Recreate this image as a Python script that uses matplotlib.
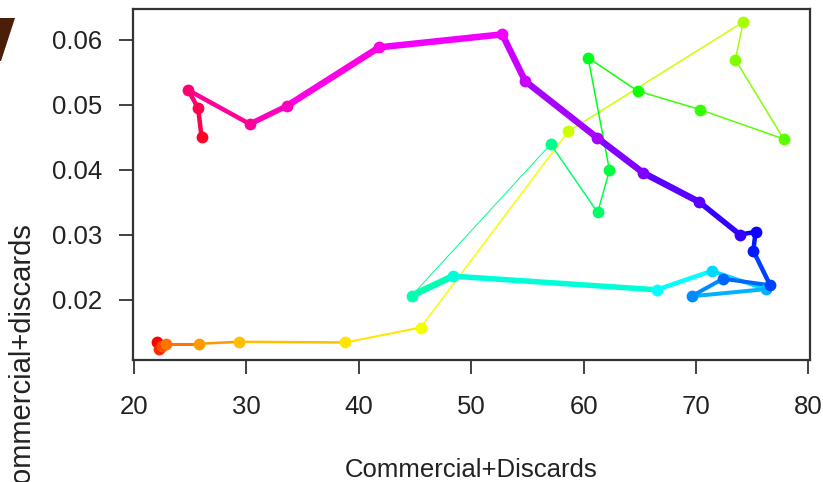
import matplotlib.pyplot as plt
import matplotlib.colors as mcolors
from matplotlib.patches import Polygon

# path, in drawing order
commercial = [
    22.0, 22.2, 22.5, 22.8, 25.8, 29.3, 38.8, 45.5, 58.65, 74.2,
    73.5, 77.8, 70.4, 64.8, 60.4, 62.3, 61.25, 57.07, 44.7, 48.36,
    66.5, 71.4, 76.2, 69.6, 72.4, 76.6, 75.1, 75.3, 73.9, 70.3,
    65.3, 61.2, 54.8, 52.76, 41.8, 33.6, 30.3, 24.83, 25.7, 26.0,
]
ratio = [
    0.0135, 0.0124, 0.0128, 0.0132, 0.0132, 0.0135, 0.0134, 0.0157, 0.0459, 0.0627,
    0.0569, 0.0447, 0.0492, 0.0521, 0.0572, 0.0399, 0.0334, 0.0439, 0.0206, 0.0236,
    0.0215, 0.0244, 0.0216, 0.0205, 0.0232, 0.0222, 0.0275, 0.0304, 0.0300, 0.0350,
    0.0395, 0.0449, 0.0536, 0.0608, 0.0588, 0.0498, 0.0470, 0.0522, 0.0494, 0.0450,
]
# segment widths in pixels (style)
seg_px = [
    3, 3, 3, 3, 2.5, 2.5, 2, 1.5, 1.5, 1.5,
    1.5, 1.5, 1.5, 1.5, 1.5, 1.5, 1.5, 1, 6.5, 5.5,
    4.5, 4, 4, 4, 4, 4.5, 4.5, 4.5, 5.5, 6.5,
    6.5, 6.5, 6.5, 6.5, 6.5, 5.5, 4.5, 4.5, 4.5,
]

n = len(commercial)
# R rainbow(n)
cols = [mcolors.hsv_to_rgb((i / n, 1, 1)) for i in range(n)]

W, H = 823, 482
fig = plt.figure(figsize=(W / 100, H / 100), dpi=100)
plt.rcParams['font.family'] = ['Liberation Sans', 'DejaVu Sans']

ax = fig.add_axes([133 / W, (H - 360) / H, (809.5 - 133) / W, 351 / H])

for i in range(n - 1):
    ax.plot(commercial[i:i + 2], ratio[i:i + 2], color=cols[i],
            linewidth=seg_px[i] * 0.72, solid_capstyle='round', zorder=2)
for i in range(n):
    ax.plot(commercial[i], ratio[i], 'o', color=cols[i], markersize=8.5,
            markeredgewidth=0, zorder=3)

ax.set_xlim(19.9, 80.1)
ax.set_ylim(0.0107, 0.0647)
ax.set_xticks([20, 30, 40, 50, 60, 70, 80])
ax.set_yticks([0.02, 0.03, 0.04, 0.05, 0.06])
ax.set_yticklabels(['0.02', '0.03', '0.04', '0.05', '0.06'])

for s in ax.spines.values():
    s.set_color('#333333')
    s.set_linewidth(1.6)
ax.tick_params(length=10, width=1.3, color='#333333', labelsize=18.5,
               labelcolor='#222222')
ax.tick_params(axis='x', pad=15)
ax.tick_params(axis='y', pad=12)

ax.set_xlabel('Commercial+Discards', fontsize=18.5, color='#222222', labelpad=28)

# rotated y label, cropped at the bottom in the reference
fig.text(22 / W, 1 - 222 / H, 'Commercial+discards', rotation=90,
         ha='center', va='top', fontsize=21, color='#222222')

# brown fragment in the top-left corner
fig.patches.append(Polygon([(0, 1 - 18 / H), (15 / W, 1 - 18 / H),
                            (1 / W, 1 - 61 / H), (0, 1 - 61 / H)],
                           closed=True, transform=fig.transFigure,
                           facecolor='#4a1e08', edgecolor='none'))

fig.savefig('out.png', dpi=100)
